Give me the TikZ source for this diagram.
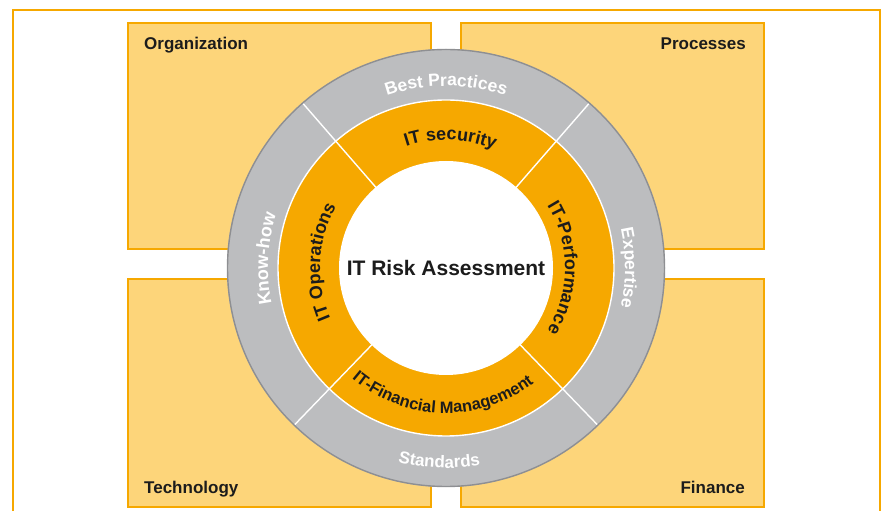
\documentclass[tikz,border=0pt]{standalone}
\usepackage{fontspec}
\setmainfont{Liberation Sans}
\usetikzlibrary{decorations.text, positioning}
\definecolor{ringgray}{RGB}{188, 189, 191}
\definecolor{rimgray}{RGB}{142, 143, 146}
\definecolor{riskorange}{RGB}{246, 168, 0}
\definecolor{areayellow}{RGB}{253, 213, 122}
\definecolor{inkblack}{RGB}{28, 28, 28}
\newcommand{\ringfont}[1]{\fontsize{#1}{#1}\selectfont\bfseries}

\begin{document}
\begin{tikzpicture}[x=1pt, y=1pt,
  area/.style={draw=riskorange, fill=areayellow, line width=1.5pt},
  arealabel/.style={font=\fontsize{17}{20}\selectfont\bfseries, text=inkblack, inner sep=0pt},
  divider/.style={draw=white, line width=1.4pt},
  arctext/.style={decorate, decoration={text along path, text align=center, text={#1}}},
]
  \useasboundingbox (0,0) rectangle (882,511);

  % Frame
  \draw[riskorange, line width=1.5pt] (13,0) -- (13,501) -- (880,501) -- (880,0);

  % Areas
  \draw[area] (128,262) rectangle (431,488);
  \draw[area] (461,262) rectangle (764,488);
  \draw[area] (128,4) rectangle (431,232);
  \draw[area] (461,4) rectangle (764,232);
  \node[arealabel, anchor=base west] (org) at (144,461) {Organization};
  \node[arealabel, anchor=base east] (proc) at (746,461) {Processes};
  \node[arealabel, anchor=base west] (tech) at (144,18) {Technology};
  \node[arealabel, anchor=base east] (fin) at (745,18) {Finance};

  % Rings
  \coordinate (c) at (446,243);
  \fill[ringgray] (c) circle (219);
  \draw[rimgray, line width=1.4pt] (c) circle (218.5);
  \fill[riskorange] (c) circle (168);
  \draw[white, line width=1.4pt] (c) circle (168);
  \fill[white] (c) circle (107);
  \foreach \a in {49, 131, 226, 314}
    \draw[divider] ([shift={(\a:106)}]c) -- ([shift={(\a:217.5)}]c);

  % Outer ring texts
  \path[arctext={|\ringfont{17.5}\color{white}|Best Practices}]
    ([shift={(150:182)}]c) arc[start angle=150, end angle=30, radius=182];
  \path[arctext={|\ringfont{18}\color{white}|Know-how}]
    ([shift={(237:178)}]c) arc[start angle=237, end angle=117, radius=178];
  \path[arctext={|\ringfont{17.5}\color{white}|Expertise}]
    ([shift={(60:179)}]c) arc[start angle=60, end angle=-60, radius=179];
  \path[arctext={|\ringfont{17}\color{white}|Standards}]
    ([shift={(208:200)}]c) arc[start angle=208, end angle=328, radius=200];

  % Inner ring texts
  \path[arctext={|\ringfont{18}\color{inkblack}|IT security}]
    ([shift={(148:128)}]c) arc[start angle=148, end angle=28, radius=128];
  \path[arctext={|\ringfont{18}\color{inkblack}|IT Operations}]
    ([shift={(237:126)}]c) arc[start angle=237, end angle=117, radius=126];
  \path[arctext={|\ringfont{18}\color{inkblack}|IT-Performance}]
    ([shift={(60:119)}]c) arc[start angle=60, end angle=-60, radius=119];
  \path[arctext={|\ringfont{16.5}\color{inkblack}|IT-Financial Management}]
    ([shift={(208.5:145)}]c) arc[start angle=208.5, end angle=328.5, radius=145];

  % Centre
  \node[font=\fontsize{21}{24}\selectfont\bfseries, text=inkblack] (risk) at (c) {IT Risk Assessment};
\end{tikzpicture}
\end{document}
